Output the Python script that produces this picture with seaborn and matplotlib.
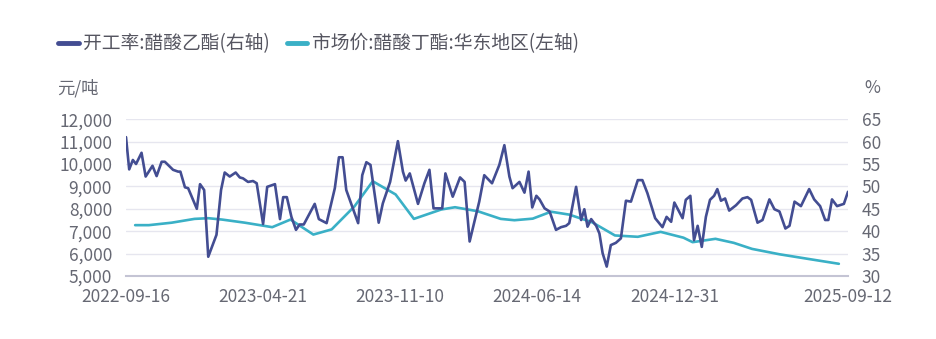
import matplotlib
matplotlib.use("Agg")
import matplotlib.pyplot as plt
import seaborn as sns
import pandas as pd
import numpy as np
from matplotlib.lines import Line2D

# ---------------- data ----------------
tick_pos = [0, 30, 60, 90, 120, 158]
tick_labels = ["2022-09-16", "2023-04-21", "2023-11-10", "2024-06-14", "2024-12-31", "2025-09-12"]

# 开工率:醋酸乙酯 (%), right axis — position on the category (week) axis and value
rate_pos = [0, 0.7, 1.5, 2.2, 3.4, 4.3, 5.8, 6.7, 7.8, 8.5, 10.3, 11.4, 11.9, 12.9, 13.6,
            15.5, 16.2, 17.1, 18.0, 19.8, 20.8, 21.6, 22.7, 24.0, 24.9, 25.6, 26.7, 27.8,
            28.6, 30.0, 30.9, 32.6, 33.7, 34.4, 35.2, 36.2, 37.2, 38.0, 38.9, 41.3, 42.2,
            43.9, 45.7, 46.6, 47.4, 48.2, 50.8, 51.7, 52.6, 53.5, 55.3, 56.2, 57.8, 59.5,
            60.6, 61.2, 62.1, 63.9, 65.3, 66.4, 67.3, 69.2, 69.9, 71.5, 73.1, 74.1, 75.2,
            77.3, 78.4, 80.1, 81.7, 82.8, 83.9, 84.6, 86.1, 87.2, 88.1, 88.9, 89.8, 90.5,
            91.6, 92.7, 94.1, 95.2, 96.3, 97.0, 98.5, 99.6, 100.3, 101.0, 101.8, 102.9,
            103.6, 104.3, 105.2, 106.1, 107.2, 108.3, 109.4, 110.5, 112.0, 113.0, 114.1,
            115.8, 117.4, 118.3, 119.3, 120.0, 121.8, 122.5, 123.5, 124.3, 125.1, 126.0,
            126.9, 127.8, 128.7, 129.4, 130.2, 131.1, 132.0, 133.5, 134.9, 136.0, 136.8,
            138.2, 139.3, 140.8, 141.9, 143.0, 144.3, 145.2, 146.3, 147.7, 149.5, 150.6,
            151.9, 153.0, 153.7, 154.5, 155.6, 157.1, 158.0]
rate_vals = [61.0, 53.8, 55.9, 55.0, 57.5, 52.2, 54.6, 52.3, 55.5, 55.5, 53.7, 53.3, 53.3, 49.8, 49.6,
             45.0, 50.5, 49.2, 34.3, 39.2, 49.2, 53.1, 52.2, 53.1, 52.0, 51.8, 51.0, 51.2,
             50.7, 41.6, 49.9, 50.5, 42.7, 47.6, 47.6, 43.2, 40.3, 41.5, 41.5, 46.1, 42.7,
             41.8, 49.6, 56.5, 56.5, 49.2, 41.8, 52.5, 55.4, 54.8, 41.9, 46.2, 51.0, 60.1,
             53.3, 51.3, 52.9, 46.1, 50.7, 53.7, 45.1, 45.1, 52.9, 47.7, 52.0, 51.0, 37.7,
             46.6, 52.5, 50.7, 54.8, 59.2, 52.2, 49.6, 51.0, 48.6, 53.3, 45.3, 47.9, 47.1,
             45.1, 44.4, 40.3, 40.9, 41.2, 41.8, 49.9, 42.5, 44.9, 41.0, 42.7, 41.2,
             39.5, 35.1, 32.1, 36.9, 37.4, 38.4, 46.8, 46.6, 51.4, 51.4, 48.5,
             42.9, 40.9, 43.2, 42.1, 46.4, 42.9, 47.0, 47.9, 38.0, 41.2, 36.5,
             43.2, 47.0, 47.9, 49.4, 46.8, 47.3, 44.6, 45.8, 47.3, 47.6, 47.0,
             41.9, 42.5, 47.1, 44.9, 44.4, 40.6, 41.2, 46.6, 45.6, 49.4, 47.1,
             45.6, 42.5, 42.5, 47.1, 45.6, 46.1, 48.8]

# 市场价:醋酸丁酯:华东地区 (元/吨), left axis
price_pos = [2, 5, 10, 15, 18, 21, 26, 32, 36, 41, 45, 50, 54, 59, 63, 69, 72, 77, 82, 85,
             89, 93, 97, 102, 107, 112, 117, 122, 124, 129, 133, 137, 143, 150, 156]
price_vals = [7270, 7270, 7380, 7550, 7580, 7520, 7380, 7180, 7520, 6850, 7080, 8110, 9230,
              8640, 7550, 7970, 8070, 7890, 7550, 7490, 7560, 7870, 7740, 7400, 6810, 6750,
              6970, 6710, 6510, 6660, 6480, 6210, 5970, 5740, 5545]

name_rate = "开工率:醋酸乙酯(右轴)"
name_price = "市场价:醋酸丁酯:华东地区(左轴)"

df_rate = pd.DataFrame({"pos": rate_pos, "val": rate_vals})
df_price = pd.DataFrame({"pos": price_pos, "val": price_vals})

# ---------------- style ----------------
sns.set_theme(style="white")
plt.rcParams["font.family"] = ["Noto Sans CJK SC", "DejaVu Sans"]

c_rate = "#434d92"
c_price = "#3ab0c6"
c_text = "#666873"
c_grid = "#e6e6ef"
c_axis = "#c4c4d4"

W, H = 937, 339
fig = plt.figure(figsize=(W / 100, H / 100), dpi=100)
ax = fig.add_axes([126 / W, 1 - 276 / H, (848 - 126) / W, (276 - 119.2) / H])
ax2 = ax.twinx()

sns.lineplot(data=df_price, x="pos", y="val", ax=ax, color=c_price, linewidth=1.9,
             estimator=None, sort=False, legend=False)
sns.lineplot(data=df_rate, x="pos", y="val", ax=ax2, color=c_rate, linewidth=1.9,
             estimator=None, sort=False, legend=False)

ax.set_xlim(0, 158)
ax.set_ylim(5000, 12000)
ax2.set_ylim(30, 65)
ax.set_yticks(np.arange(5000, 12001, 1000))
ax2.set_yticks(np.arange(30, 66, 5))
ax.set_yticklabels([f"{v:,}" for v in range(5000, 12001, 1000)])
ax.set_xticks(tick_pos)
ax.set_xticklabels(tick_labels)

for a in (ax, ax2):
    a.set_xlabel("")
    a.set_ylabel("")
    for s in a.spines.values():
        s.set_visible(False)
    a.tick_params(axis="both", length=0, labelsize=12.5, labelcolor=c_text)
ax.tick_params(axis="y", pad=10)
ax2.tick_params(axis="y", pad=10)
ax.tick_params(axis="x", pad=9, labelsize=12.5)

ax.grid(axis="y", color=c_grid, linewidth=1.0)
ax.grid(axis="x", visible=False)
ax2.grid(False)
ax.spines["bottom"].set_visible(True)
ax.spines["bottom"].set_color(c_axis)
ax.spines["bottom"].set_linewidth(1.5)

fig.text(57 / W, 1 - 88 / H, "元/吨", fontsize=12.5, color=c_text, va="center", ha="left")
fig.text(880 / W, 1 - 88 / H, "%", fontsize=12.5, color=c_text, va="center", ha="right")

handles = [Line2D([], [], color=c_rate, linewidth=3.5),
           Line2D([], [], color=c_price, linewidth=3.5)]
fig.legend(handles, [name_rate, name_price], loc="center left",
           bbox_to_anchor=(41 / W, 1 - 44 / H), ncol=2, frameon=False,
           fontsize=13.5, handlelength=1.1, handletextpad=0.25, columnspacing=0.9,
           labelcolor="#555560")

fig.savefig("out.png", dpi=100)
